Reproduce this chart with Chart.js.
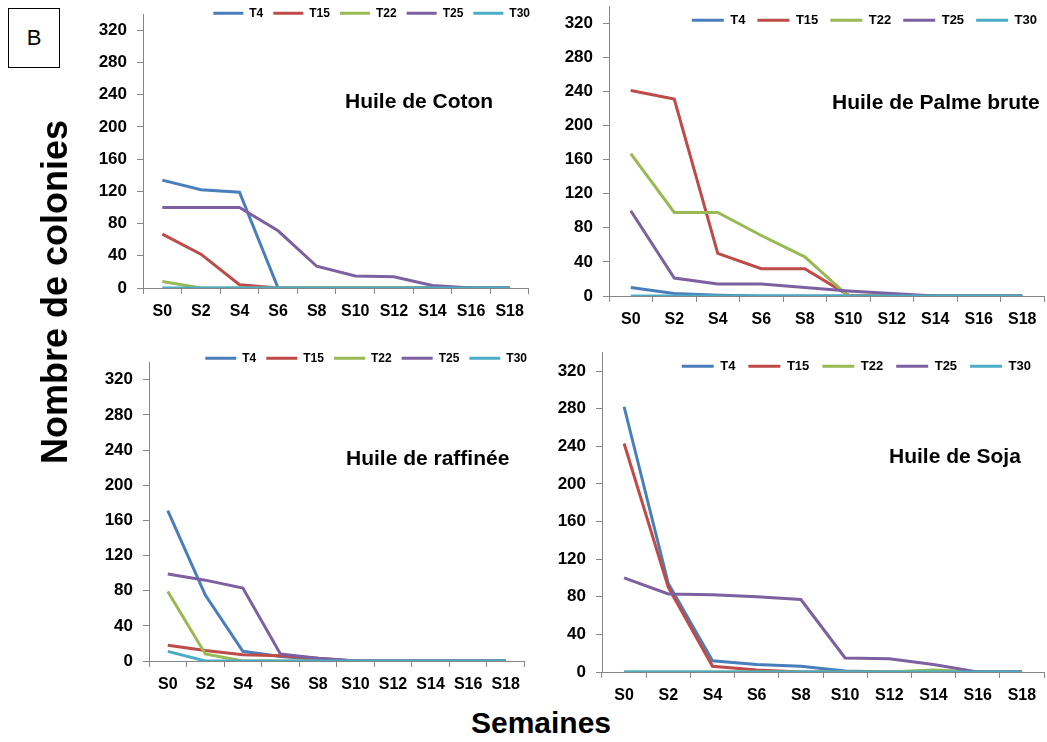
<!DOCTYPE html>
<html lang="fr">

<head>
    <meta charset="UTF-8">
    <title>Nombre de colonies</title>
    <style>
        body { margin: 0; background: #fff; font-family: "Liberation Sans", Arial, sans-serif; }
        #page { position: relative; width: 1047px; height: 742px; overflow: hidden; }
        canvas { position: absolute; }
        .titre { position: absolute; font-weight: bold; font-size: 21px; color: #000; white-space: nowrap; line-height: 1; }
        #boxB { position: absolute; left: 8px; top: 8px; width: 50px; height: 58px; border: 1.5px solid #000;
            font-size: 22px; display: flex; align-items: center; justify-content: center; }
        #ylab { position: absolute; left: 55px; top: 292px; transform: translate(-50%, -50%) rotate(-90deg);
            font-weight: bold; font-size: 36px; white-space: nowrap; }
        #xlab { position: absolute; left: 541px; top: 723px; transform: translate(-50%, -50%);
            font-weight: bold; font-size: 30px; white-space: nowrap; }
    </style>
</head>

<body>
    <div id="page">
        <div id="boxB">B</div>
        <canvas id="c1" width="459" height="328" style="left:73px;top:-6px"></canvas>
        <canvas id="c2" width="507" height="344" style="left:539px;top:-14px"></canvas>
        <canvas id="c3" width="449" height="353" style="left:79px;top:342px"></canvas>
        <canvas id="c4" width="514" height="374" style="left:532px;top:332px"></canvas>
        <div class="titre" style="left:345px;top:90px">Huile de Coton</div>
        <div class="titre" style="left:832px;top:91px">Huile de Palme brute</div>
        <div class="titre" style="left:346px;top:447px">Huile de raffinée</div>
        <div class="titre" style="left:889px;top:445px">Huile de Soja</div>
        <div id="ylab">Nombre de colonies</div>
        <div id="xlab">Semaines</div>
    </div>
    <script src="https://cdn.jsdelivr.net/npm/chart.js"></script>
    <script>
        // semaines
        const weeks = ['S0', 'S2', 'S4', 'S6', 'S8', 'S10', 'S12', 'S14', 'S16', 'S18'];
        const series_names = ['T4', 'T15', 'T22', 'T25', 'T30'];
        const y_ticks = [0, 40, 80, 120, 160, 200, 240, 280, 320];

        // Huile de Coton
        const coton_T4 = [134, 122, 119, 0, 0, 0, 0, 0, 0, 0];
        const coton_T15 = [67, 42, 4, 0, 0, 0, 0, 0, 0, 0];
        const coton_T22 = [8, 0, 0, 0, 0, 0, 0, 0, 0, 0];
        const coton_T25 = [100, 100, 100, 71, 27, 15, 14, 3, 0, 0];
        const coton_T30 = [0, 0, 0, 0, 0, 0, 0, 0, 0, 0];

        // Huile de Palme brute
        const palme_T4 = [10, 3, 1, 0, 0, 0, 0, 0, 0, 0];
        const palme_T15 = [241, 231, 50, 32, 32, 1, 0, 0, 0, 0];
        const palme_T22 = [167, 98, 98, 71, 46, 0, 0, 0, 0, 0];
        const palme_T25 = [100, 21, 14, 14, 10, 6, 3, 0, 0, 0];
        const palme_T30 = [0, 0, 0, 0, 0, 0, 0, 0, 0, 0];

        // Huile de raffinée
        const raff_T4 = [171, 75, 11, 5, 2, 0, 0, 0, 0, 0];
        const raff_T15 = [18, 12, 7, 6, 3, 0, 0, 0, 0, 0];
        const raff_T22 = [79, 8, 0, 0, 0, 0, 0, 0, 0, 0];
        const raff_T25 = [99, 92, 83, 8, 3, 0, 0, 0, 0, 0];
        const raff_T30 = [11, 0, 0, 0, 0, 0, 0, 0, 0, 0];

        // Huile de Soja
        const soja_T4 = [282, 94, 12, 8, 6, 1, 0, 0, 0, 0];
        const soja_T15 = [243, 90, 6, 2, 0, 0, 0, 0, 0, 0];
        const soja_T22 = [0, 0, 0, 0, 0, 0, 0, 2, 0, 0];
        const soja_T25 = [100, 83, 82, 80, 77, 15, 14, 8, 0, 0];
        const soja_T30 = [0, 0, 0, 0, 0, 0, 0, 0, 0, 0];

        const colors = ['#4A7EBB', '#BE4B48', '#98B954', '#7D60A0', '#4BACC6'];
        const axis_color = '#868686';

        // legend takes no room and is drawn over the plot, like in excel
        const legendShift = {
            id: 'legendShift',
            beforeLayout(chart) {
                const lg = chart.legend;
                if (!lg || lg._patched) return;
                const fit = lg.fit;
                lg.fit = function () { fit.call(this); this.height = 0; };
                lg._patched = true;
            },
            afterLayout(chart, args, opts) {
                const lg = chart.legend;
                if (!lg) return;
                lg.top += opts.dy || 0;
                lg.bottom = lg.top + 40;
                lg.height = 40;
                lg.left += opts.dx || 0;
                lg.right += opts.dx || 0;
            }
        };

        function make_chart(id, data, lg) {
            const ctx = document.getElementById(id).getContext('2d');
            new Chart(ctx, {
                type: 'line',
                data: {
                    labels: weeks,
                    datasets: data.map((values, i) => ({
                        label: series_names[i],
                        data: values,
                        borderColor: colors[i],
                        backgroundColor: colors[i],
                        borderWidth: 3,
                        pointRadius: 0,
                        tension: 0,
                        order: 5 - i
                    }))
                },
                options: {
                    responsive: false,
                    animation: false,
                    layout: { padding: { top: 12, right: 2, left: 0, bottom: 0 } },
                    plugins: {
                        tooltip: { enabled: false },
                        legendShift: { dx: lg.dx, dy: lg.dy },
                        legend: {
                            position: 'top',
                            align: 'end',
                            reverse: true,
                            labels: {
                                boxWidth: lg.box,
                                boxHeight: 3,
                                padding: lg.pad,
                                color: '#000',
                                font: { family: 'Liberation Sans', size: lg.font, weight: 'bold' },
                                generateLabels: ch => Chart.defaults.plugins.legend.labels.generateLabels(ch)
                                    .map(l => ({ ...l, lineWidth: 0 }))
                            }
                        }
                    },
                    scales: {
                        x: {
                            offset: true,
                            grid: { offset: true, drawOnChartArea: false, color: axis_color, tickLength: 6 },
                            border: { color: axis_color, width: 1 },
                            ticks: {
                                color: '#000', padding: 8, maxRotation: 0, autoSkip: false,
                                font: { family: 'Liberation Sans', size: 16, weight: 'bold' }
                            },
                            afterFit: s => { s.height = 34; }
                        },
                        y: {
                            min: 0,
                            max: 340,
                            grid: { drawOnChartArea: false, color: axis_color, tickLength: 6 },
                            border: { color: axis_color, width: 1 },
                            ticks: {
                                stepSize: 40, color: '#000', padding: 10,
                                font: { family: 'Liberation Sans', size: 17, weight: 'bold' }
                            },
                            afterBuildTicks: s => { s.ticks = y_ticks.map(v => ({ value: v })); },
                            afterFit: s => { s.width = 70; }
                        }
                    }
                },
                plugins: [legendShift]
            });
        }

        make_chart('c1', [coton_T4, coton_T15, coton_T22, coton_T25, coton_T30],
            { font: 12, box: 30, pad: 10, dx: 10, dy: -17 });
        make_chart('c2', [palme_T4, palme_T15, palme_T22, palme_T25, palme_T30],
            { font: 13, box: 32, pad: 12, dx: 5, dy: -4.5 });
        make_chart('c3', [raff_T4, raff_T15, raff_T22, raff_T25, raff_T30],
            { font: 12, box: 31, pad: 10, dx: 11, dy: -20 });
        make_chart('c4', [soja_T4, soja_T15, soja_T22, soja_T25, soja_T30],
            { font: 13, box: 32, pad: 13, dx: 0, dy: -5.5 });
    </script>
</body>

</html>
